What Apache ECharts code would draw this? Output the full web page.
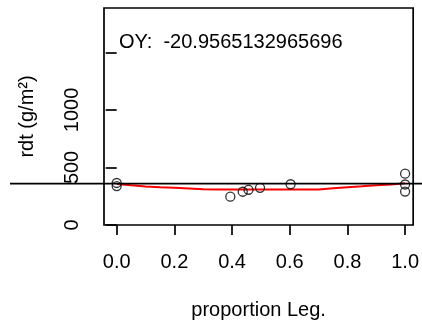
<!DOCTYPE html>
<html>
<head>
<meta charset="utf-8">
<script src="https://cdn.jsdelivr.net/npm/echarts@6/dist/echarts.min.js"></script>
<style>
  html, body { margin: 0; padding: 0; background: #fff; }
  #chart { width: 422px; height: 325px; }
</style>
</head>
<body>
<div id="chart"></div>
<script>
// points (proportion Leg., rdt)
const propLeg = [0, 0, 0.394, 0.437, 0.457, 0.497, 0.603, 1, 1, 1]
const rdt = [365, 338, 246, 289, 306, 323, 354, 446, 352, 290]

// smoothed curve
const fitX = [0, 0.05, 0.1, 0.15, 0.2, 0.25, 0.3, 0.35, 0.4, 0.5, 0.6, 0.7, 0.75, 0.8, 0.85, 0.9, 0.95, 1]
const fitY = [356, 345, 335, 328, 324, 318, 311, 308, 308, 308, 308, 309, 320, 328, 336, 346, 352, 362]

const hLine = 360
const xTicks = [0, 0.2, 0.4, 0.6, 0.8, 1]
const xTickLabels = ['0.0', '0.2', '0.4', '0.6', '0.8', '1.0']
const yTicks = [0, 500, 1000, 1500]
const yTickLabels = ['0', '500', '1000', '']
const note = 'OY:  -20.9565132965696'

const font = "'Liberation Sans', Arial, sans-serif"
const chart = echarts.init(document.getElementById('chart'))

const option = {
  animation: false,
  textStyle: { fontFamily: font },
  grid: {
    left: 104, top: 8, right: 7, bottom: 97,
    show: true, borderColor: '#000', borderWidth: 1.7
  },
  xAxis: {
    type: 'value', min: -0.044, max: 1.028,
    name: 'proportion Leg.', nameLocation: 'middle', nameGap: 75,
    nameTextStyle: { fontSize: 20, color: '#000', fontFamily: font },
    axisLine: { show: false },
    splitLine: { show: false },
    axisTick: { show: true, length: 10, customValues: xTicks, lineStyle: { color: '#000', width: 1.7 } },
    axisLabel: {
      customValues: xTicks, margin: 27, fontSize: 20, color: '#000', fontFamily: font,
      formatter: v => xTickLabels[xTicks.indexOf(v)]
    }
  },
  yAxis: {
    type: 'value', min: 0, max: 1885,
    name: 'rdt (g/m²)', nameLocation: 'middle', nameGap: 67,
    nameTextStyle: { fontSize: 20, color: '#000', fontFamily: font },
    axisLine: { show: false },
    splitLine: { show: false },
    axisTick: { show: true, length: 11, customValues: yTicks, lineStyle: { color: '#000', width: 1.7 } },
    axisLabel: {
      customValues: yTicks, rotate: 90, margin: 22, fontSize: 20, color: '#000', fontFamily: font,
      formatter: v => yTickLabels[yTicks.indexOf(v)]
    }
  },
  series: [
    {
      type: 'line',
      data: fitX.map((x, i) => [x, fitY[i]]),
      showSymbol: false,
      lineStyle: { color: '#ff0000', width: 2 },
      z: 3
    },
    {
      type: 'scatter',
      data: propLeg.map((x, i) => [x, rdt[i]]),
      symbol: 'circle',
      symbolSize: 9,
      itemStyle: { color: 'rgba(0,0,0,0)', borderColor: '#000', borderWidth: 1.3 },
      z: 4
    }
  ]
}

chart.setOption(option)

// abline across the whole device
const yPix = chart.convertToPixel({ gridIndex: 0 }, [0, hLine])[1]
chart.setOption({
  graphic: [
    {
      type: 'line',
      shape: { x1: 10, y1: yPix, x2: 422, y2: yPix },
      style: { stroke: '#000', lineWidth: 1.7 },
      z: 5
    },
    {
      type: 'text', x: 119, y: 42.5,
      style: { text: note, font: '20px ' + font, fill: '#000', textVerticalAlign: 'middle' }
    }
  ]
})
</script>
</body>
</html>
